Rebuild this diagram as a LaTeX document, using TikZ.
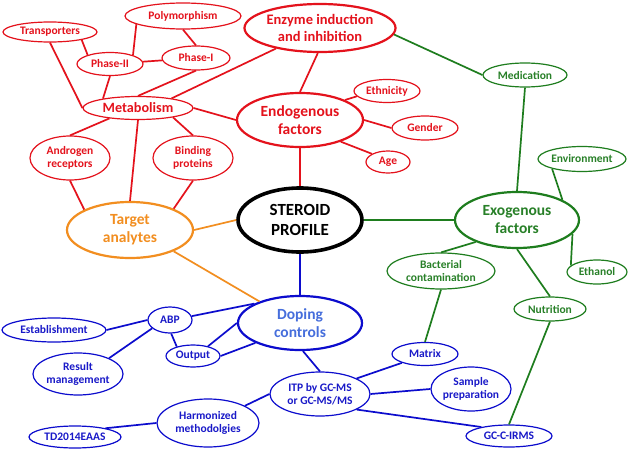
\documentclass[tikz,border=0pt]{standalone}
\usepackage{fontspec}
\newfontfamily\cb{Carlito}
\usetikzlibrary{shapes.geometric}
\definecolor{cred}{RGB}{228,18,28}
\definecolor{cgreen}{RGB}{30,125,30}
\definecolor{cgreentx}{RGB}{40,128,40}
\definecolor{cblue}{RGB}{12,12,205}
\definecolor{cbluetx}{RGB}{25,25,200}
\definecolor{cdoptx}{RGB}{70,110,220}
\definecolor{corange}{RGB}{242,142,32}
\tikzset{
  el/.style={ellipse, inner sep=0pt, align=center, line width=1.2pt},
  sm/.style={el, font=\cb\bfseries\fontsize{11.5}{13.5}\selectfont},
  bg/.style={el, line width=2.2pt, font=\cb\bfseries\fontsize{15.5}{18}\selectfont},
  rn/.style={draw=cred, text=cred},
  gn/.style={draw=cgreen, text=cgreentx},
  bn/.style={draw=cblue, text=cbluetx},
  sz/.style n args={2}{minimum width=#1pt, minimum height=#2pt},
  rl/.style={draw=cred, line width=1.7pt},
  gl/.style={draw=cgreen, line width=1.7pt},
  bl/.style={draw=cblue, line width=1.7pt},
  ol/.style={draw=corange, line width=1.7pt},
}
\begin{document}
\begin{tikzpicture}[x=1pt,y=-1pt]
\useasboundingbox[fill=white] (0,0) rectangle (630,450);
% red cluster
\node[sm,rn,sz={94}{20}] (tr) at (50,32) {Transporters};
\node[sm,rn,sz={116}{26}] (poly) at (183,16) {Polymorphism};
\node[sm,rn,sz={66}{23}] (p2) at (110,64) {Phase-II};
\node[sm,rn,sz={68}{24}] (p1) at (196,58) {Phase-I};
\node[el,rn,sz={110}{23},font=\cb\bfseries\fontsize{14.2}{16}\selectfont] (met) at (138,108) {Metabolism};
\node[bg,rn,sz={140}{48},font=\cb\bfseries\fontsize{14.5}{17}\selectfont] (enz) at (320,28) {Enzyme induction\\and inhibition};
\node[bg,rn,sz={126}{54}] (endo) at (300,120) {Endogenous\\factors};
\node[sm,rn,sz={66}{23}] (eth) at (387,91) {Ethnicity};
\node[sm,rn,sz={66}{24}] (gen) at (425,128) {Gender};
\node[sm,rn,sz={44}{22}] (age) at (388,162) {Age};
\node[sm,rn,sz={80}{44}] (andr) at (70,158) {Androgen\\receptors};
\node[sm,rn,sz={80}{44}] (bind) at (193,158) {Binding\\proteins};
% orange
\node[bg,draw=corange,text=corange,sz={126}{56}] (tgt) at (130,230) {Target\\analytes};
% center
\node[el,draw=black,line width=3.6pt,sz={124}{64},font=\cb\bfseries\fontsize{17}{19.5}\selectfont] (st) at (300,220) {STEROID\\PROFILE};
% green
\node[sm,gn,sz={84}{24}] (med) at (525,75) {Medication};
\node[sm,gn,sz={88}{25}] (env) at (582,159) {Environment};
\node[bg,gn,sz={124}{56}] (exo) at (517,220) {Exogenous\\factors};
\node[sm,gn,sz={60}{24}] (etl) at (597,272) {Ethanol};
\node[sm,gn,sz={108}{36}] (bac) at (441,271) {Bacterial\\contamination};
\node[sm,gn,sz={72}{24}] (nut) at (550,309) {Nutrition};
% blue
\node[bg,draw=cblue,text=cdoptx,sz={124}{54}] (dop) at (300,323) {Doping\\controls};
\node[sm,bn,sz={44}{26}] (abp) at (170,320) {ABP};
\node[sm,bn,sz={104}{24}] (est) at (54,330) {Establishment};
\node[sm,bn,sz={54}{22}] (out) at (193,356) {Output};
\node[sm,bn,sz={90}{42}] (res) at (78,374) {Result\\management};
\node[sm,bn,sz={100}{44}] (itp) at (320,394) {ITP by GC-MS\\or GC-MS/MS};
\node[sm,bn,sz={66}{23}] (mat) at (425,354) {Matrix};
\node[sm,bn,sz={80}{44}] (smp) at (471,389) {Sample\\preparation};
\node[sm,bn,sz={86}{22}] (gcc) at (509,436) {GC-C-IRMS};
\node[sm,bn,sz={102}{48}] (har) at (208,423) {Harmonized\\methodolgies};
\node[sm,bn,sz={92}{22}] (td) at (75,437) {TD2014EAAS};
% red edges
\draw[rl] (tr.south) -- (met.west);
\draw[rl] (tr.-14) -- (p2.158);
\draw[rl] (poly.190) -- (p2.21);
\draw[rl] (poly.south) -- (p1.north);
\draw[rl] (p2) -- (p1);
\draw[rl] (p2.south) -- (met.165);
\draw[rl] (p1.south) -- (met.north);
\draw[rl] (met.16) -- (enz.205);
\draw[rl] (met.east) -- (endo.west);
\draw[rl] (enz.265) -- (endo.north);
\draw[rl] (met.200) -- (andr.north);
\draw[rl] (met.south) -- (tgt.north);
\draw[rl] (met.345) -- (bind.north);
\draw[rl] (andr.south) -- (tgt.156);
\draw[rl] (bind.south) -- (tgt.26);
\draw[rl] (endo.south) -- (st.north);
\draw[rl] (endo.24) -- (eth.190);
\draw[rl] (endo.east) -- (gen.west);
\draw[rl] (endo.332) -- (age.153);
% orange edges
\draw[ol] (tgt.east) -- (st.west);
\draw[ol] (tgt.334) -- (dop.152);
% green edges
\draw[gl] (enz.-5) -- (med.west);
\draw[gl] (med.south) -- (exo.north);
\draw[gl] (st.east) -- (exo.west);
\draw[gl] (exo.24) -- (env.198);
\draw[gl] (exo.346) -- (etl.166);
\draw[gl] (exo.208) -- (bac.north);
\draw[gl] (exo.south) -- (nut.north);
\draw[gl] (bac.south) -- (mat.north);
\draw[gl] (nut.south) -- (gcc.north);
% blue edges
\draw[bl] (st.south) -- (dop.north);
\draw[bl] (abp.10) -- (dop.157);
\draw[bl] (est.east) -- (abp.west);
\draw[bl] (abp.205) -- (res.27);
\draw[bl] (abp.275) -- (out.150);
\draw[bl] (out.33) -- (dop.west);
\draw[bl] (out.east) -- (dop.204);
\draw[bl] (dop.276) -- (itp.north);
\draw[bl] (itp.23) -- (mat.201);
\draw[bl] (itp.east) -- (smp.west);
\draw[bl] (itp.337) -- (gcc.162);
\draw[bl] (itp.west) -- (har.25);
\draw[bl] (har.west) -- (td.16);
\end{tikzpicture}
\end{document}
